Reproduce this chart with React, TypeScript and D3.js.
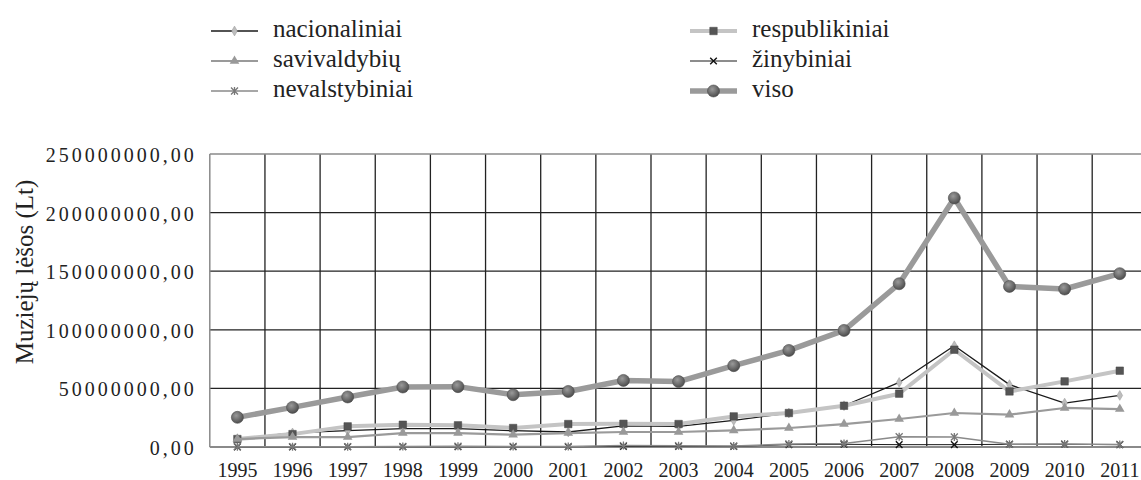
import React, { useRef, useEffect } from "react";
import { select, scaleBand, scaleLinear, line, axisLeft, axisBottom, symbol, symbolDiamond, symbolSquare, symbolTriangle, symbolTimes } from "d3";

const years = ["1995", "1996", "1997", "1998", "1999", "2000", "2001", "2002", "2003", "2004", "2005", "2006", "2007", "2008", "2009", "2010", "2011"];

// values in millions Lt
const nacionaliniai = [7.0, 12.0, 13.9, 15.6, 15.6, 13.9, 12.8, 18.0, 17.6, 22.7, 29.0, 35.2, 55.1, 86.4, 53.2, 37.5, 44.0];
const respublikiniai = [6.8, 11.0, 17.6, 19.0, 18.5, 16.2, 19.6, 19.8, 19.6, 26.1, 29.0, 35.2, 45.5, 83.0, 47.4, 56.0, 65.1];
const savivaldybiu = [6.8, 8.5, 8.5, 11.9, 11.9, 10.5, 11.9, 12.8, 12.8, 14.2, 16.2, 19.6, 23.9, 29.0, 27.6, 33.3, 32.4];
const zinybiniai = [0.1, 0.1, 0.2, 0.2, 0.2, 0.2, 0.2, 0.5, 0.5, 0.5, 2.0, 2.3, 2.0, 2.0, 2.3, 2.3, 2.0];
const nevalstybiniai = [0.2, 0.3, 0.3, 0.4, 0.6, 0.5, 0.5, 1.2, 1.0, 0.8, 2.6, 3.0, 8.8, 8.5, 2.4, 2.5, 2.2];
const viso = [25.3, 33.8, 42.7, 51.2, 51.5, 44.6, 47.4, 56.8, 55.8, 69.4, 82.4, 99.5, 139.3, 212.5, 137.0, 134.8, 147.9];

const yTicks = [0, 50000000, 100000000, 150000000, 200000000, 250000000];

const FONT = "'Liberation Serif', serif";

const series = [
    { name: "nacionaliniai", values: nacionaliniai, stroke: "#1a1a1a", width: 1.3, marker: "diamond" },
    { name: "respublikiniai", values: respublikiniai, stroke: "#c4c4c4", width: 4, marker: "square" },
    { name: "savivaldybių", values: savivaldybiu, stroke: "#9a9a9a", width: 2.2, marker: "triangle" },
    { name: "žinybiniai", values: zinybiniai, stroke: "#1a1a1a", width: 1, marker: "x" },
    { name: "nevalstybiniai", values: nevalstybiniai, stroke: "#8a8a8a", width: 1.5, marker: "star" },
    { name: "viso", values: viso, stroke: "#9a9a9a", width: 5.5, marker: "circle" },
];

// draws one marker at (0,0) into group g
const drawMarker = (g, kind) => {
    if (kind === "diamond") {
        g.append("path").attr("d", symbol(symbolDiamond, 28)()).attr("fill", "#bdbdbd").attr("stroke", "#999").attr("stroke-width", 0.5);
    } else if (kind === "square") {
        g.append("path").attr("d", symbol(symbolSquare, 56)()).attr("fill", "#555").attr("stroke", "#444").attr("stroke-width", 0.5);
    } else if (kind === "triangle") {
        g.append("path").attr("d", symbol(symbolTriangle, 40)()).attr("fill", "#999");
    } else if (kind === "x") {
        g.append("path").attr("d", symbol(symbolTimes, 30)()).attr("fill", "none").attr("stroke", "#111").attr("stroke-width", 1.4);
    } else if (kind === "star") {
        g.append("path").attr("d", "M-3.5,-3.5L3.5,3.5M-3.5,3.5L3.5,-3.5M0,-4L0,4").attr("fill", "none").attr("stroke", "#777").attr("stroke-width", 1.3);
    } else if (kind === "circle") {
        g.append("circle").attr("r", 6).attr("fill", "url(#ballGrad)").attr("stroke", "#4a4a4a").attr("stroke-width", 0.6);
    }
};

const App = () => {
    const svgRef = useRef(null);

    useEffect(() => {
        const svg = select(svgRef.current);
        svg.selectAll("*").remove();

        const left = 209.8;
        const band = 55.15;
        const xScale = scaleBand().domain(years).range([left, left + band * years.length]).padding(0);
        const yScale = scaleLinear().domain([0, 250000000]).range([447, 154]);
        const cx = (i) => xScale(years[i]) + xScale.bandwidth() / 2;

        const defs = svg.append("defs");
        const grad = defs.append("radialGradient").attr("id", "ballGrad").attr("cx", "40%").attr("cy", "35%").attr("r", "65%");
        grad.append("stop").attr("offset", "0%").attr("stop-color", "#9a9a9a");
        grad.append("stop").attr("offset", "100%").attr("stop-color", "#4e4e4e");

        // grid
        const grid = svg.append("g");
        grid.selectAll(".hgrid")
            .data(yTicks.slice(1, -1))
            .join("line")
            .attr("x1", left).attr("x2", 1141)
            .attr("y1", d => yScale(d)).attr("y2", d => yScale(d))
            .attr("stroke", "#222").attr("stroke-width", 1.3);
        grid.selectAll(".vgrid")
            .data(years.slice(1))
            .join("line")
            .attr("x1", d => xScale(d)).attr("x2", d => xScale(d))
            .attr("y1", yScale(250000000)).attr("y2", yScale(0))
            .attr("stroke", "#222").attr("stroke-width", 1.3);
        // frame
        grid.append("line").attr("x1", left).attr("x2", 1141).attr("y1", yScale(250000000)).attr("y2", yScale(250000000))
            .attr("stroke", "#8a8a8a").attr("stroke-width", 1.5);
        grid.append("line").attr("x1", left).attr("x2", left).attr("y1", yScale(250000000)).attr("y2", yScale(0))
            .attr("stroke", "#8a8a8a").attr("stroke-width", 1.5);

        // axes
        const yAxis = axisLeft(yScale).tickValues(yTicks).tickSize(0).tickPadding(13).tickFormat(d => `${d},00`);
        const gy = svg.append("g").attr("transform", `translate(${left},0)`).call(yAxis);
        gy.attr("font-family", null);
        gy.select(".domain").remove();
        gy.selectAll("text")
            .style("font-family", FONT).style("font-size", "20px").attr("fill", "#222")
            .style("letter-spacing", "3px").attr("dy", "0.37em");

        const xAxis = axisBottom(xScale).tickSize(0).tickPadding(16);
        const gx = svg.append("g").attr("transform", `translate(0,${yScale(0)})`).call(xAxis);
        gx.attr("font-family", null);
        gx.select(".domain").remove();
        gx.selectAll("text").style("font-family", FONT).style("font-size", "20px").attr("fill", "#222");

        svg.append("line").attr("x1", left).attr("x2", 1141).attr("y1", yScale(0)).attr("y2", yScale(0))
            .attr("stroke", "#8a8a8a").attr("stroke-width", 2);

        // y title
        svg.append("text")
            .attr("transform", "translate(33,272) rotate(-90)")
            .attr("text-anchor", "middle")
            .style("font-family", FONT).style("font-size", "25px").attr("fill", "#222")
            .text("Muziejų lėšos (Lt)");

        // lines and markers
        const myLine = line()
            .x((v, i) => cx(i))
            .y(v => yScale(v * 1000000));

        series.forEach(s => {
            svg.append("path")
                .attr("d", myLine(s.values))
                .attr("fill", "none")
                .attr("stroke", s.stroke)
                .attr("stroke-width", s.width)
                .attr("stroke-linejoin", "round");
            s.values.forEach((v, i) => {
                const g = svg.append("g").attr("transform", `translate(${cx(i)},${yScale(v * 1000000)})`);
                drawMarker(g, s.marker);
            });
        });

        // legend
        const legendCols = [211, 690];
        const legendRows = [31, 61, 91];
        series.forEach((s, i) => {
            const lx = legendCols[i % 2];
            const ly = legendRows[Math.floor(i / 2)];
            svg.append("line").attr("x1", lx).attr("x2", lx + 47).attr("y1", ly).attr("y2", ly)
                .attr("stroke", s.stroke).attr("stroke-width", s.width);
            const g = svg.append("g").attr("transform", `translate(${lx + 23.5},${ly})`);
            drawMarker(g, s.marker);
            svg.append("text")
                .attr("x", lx + 62).attr("y", ly + 6)
                .style("font-family", FONT).style("font-size", "25px").attr("fill", "#222")
                .text(s.name);
        });
    }, []);

    return (
        <div style={{ position: "absolute", left: 0, top: 0 }}>
            <svg ref={svgRef} width={1141} height={480} style={{ display: "block", fontFamily: "'Liberation Serif', serif" }} />
        </div>
    );
};

export default App;
